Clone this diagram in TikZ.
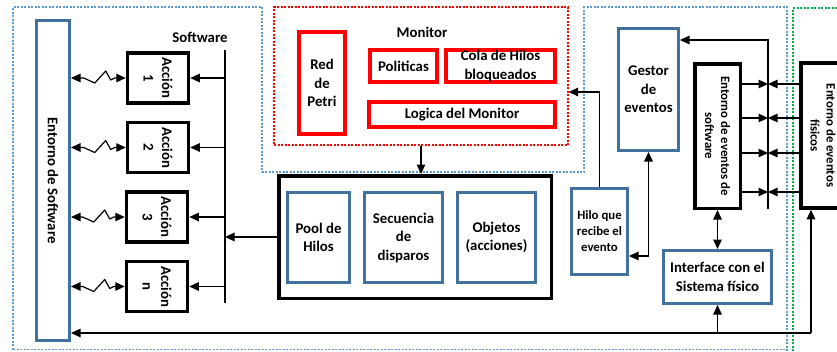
\documentclass[tikz,border=0pt]{standalone}
\usepackage{fontspec}
\setmainfont{Carlito}
\usetikzlibrary{arrows.meta}
\definecolor{boxblue}{HTML}{41719C}
\definecolor{dotblue}{HTML}{5B9BD5}
\definecolor{dotgreen}{HTML}{00B050}
\begin{document}
\begin{tikzpicture}[x=1pt,y=-1pt,
  txt/.style={font=\fontsize{14.8}{18.5}\selectfont\bfseries, align=center, inner sep=0pt},
  stxt/.style={font=\fontsize{12.8}{16}\selectfont\bfseries, align=center, inner sep=0pt},
  bluebox/.style={draw=boxblue, line width=3pt, fill=white, inner sep=0pt},
  blackbox/.style={draw=black, line width=3.5pt, fill=white, inner sep=0pt},
  redbox/.style={draw=red, line width=4pt, fill=white, inner sep=0pt},
  arr/.style={line width=1.2pt, -{Triangle[length=9.5pt,width=8.5pt]}},
  dblarr/.style={line width=1.2pt, {Triangle[length=9.5pt,width=8.5pt]}-{Triangle[length=9.5pt,width=8.5pt]}},
  plain/.style={line width=1.2pt},
  dotline/.style={line width=1.2pt, dash pattern=on 2pt off 1.5pt}
]
\useasboundingbox (0,0) rectangle (837,351);

% dotted regions
\draw[dotline, dotblue] (13,349.5) -- (13,7) -- (262,7) -- (262,172) -- (584,172) -- (584,7) -- (787,7) -- (787,351);
\draw[dotline, dotblue] (13,349.5) -- (787,349.5);
\draw[dotline, dotgreen] (793,351) -- (793,8) -- (840,8);
\node[draw=red, dotline, minimum width=294pt, minimum height=138pt, inner sep=0pt] (mon) at (421,76) {};

% labels
\node[txt] (swlab) at (200,37) {Software};
\node[txt] (monlab) at (422,32) {Monitor};

% left environment
\node[bluebox, minimum width=33pt, minimum height=320pt] (envsw) at (53,180.5) {};
\node[txt, rotate=-90] (envswt) at (envsw) {Entorno de Software};

% action boxes
\node[blackbox, minimum width=61pt, minimum height=50pt] (a1) at (158,78) {};
\node[blackbox, minimum width=61pt, minimum height=50pt] (a2) at (158,147.5) {};
\node[blackbox, minimum width=61pt, minimum height=50pt] (a3) at (157,217) {};
\node[blackbox, minimum width=61pt, minimum height=50pt] (an) at (157,286.5) {};
\node[txt, rotate=-90] (a1t) at (a1) {Acción\\1};
\node[txt, rotate=-90] (a2t) at (a2) {Acción\\2};
\node[txt, rotate=-90] (a3t) at (a3) {Acción\\3};
\node[txt, rotate=-90] (ant) at (an) {Acción\\n};

% software bus
\coordinate (bt) at (225,50);
\coordinate (bb) at (225,303);
\draw[plain] (bt) -- (bb);
\foreach \n in {a1,a2,a3,an}{
  \draw[arr] (\n -| bt) -- (\n.east);
  \draw[dblarr, line join=round] (envsw.east |- \n) -- ([shift={(-42,0)}]\n.west) -- ([shift={(-31,5)}]\n.west) -- ([shift={(-20,-7)}]\n.west) -- ([shift={(-15,2)}]\n.west) -- ([shift={(-11,0)}]\n.west) -- (\n.west);
}

% monitor internals
\node[redbox, minimum width=46pt, minimum height=102pt, txt] (petri) at (322,83) {Red\\de\\Petri};
\node[redbox, minimum width=67pt, minimum height=32pt, txt] (pol) at (403.5,66) {Politicas};
\node[redbox, minimum width=109pt, minimum height=32pt, txt] (cola) at (500.5,66) {Cola de Hilos\\bloqueados};
\node[redbox, minimum width=186pt, minimum height=25pt, txt] (logica) at (462,114.5) {Logica del Monitor};

% thread pool container
\node[blackbox, minimum width=272.5pt, minimum height=122.5pt] (cont) at (415,237) {};
\node[bluebox, minimum width=62pt, minimum height=90pt, txt] (pool) at (318.5,237.5) {Pool de\\Hilos};
\node[bluebox, minimum width=78pt, minimum height=90pt, txt] (sec) at (403.5,237.5) {Secuencia\\de\\disparos};
\node[bluebox, minimum width=78pt, minimum height=90pt, txt] (obj) at (496.5,237.5) {Objetos\\(acciones)};

\draw[arr] (cont.west) -- (cont.west -| bt);
\draw[arr] (mon.south) -- (mon.south |- cont.north);

% right side
\node[bluebox, minimum width=56pt, minimum height=86pt, stxt] (hilo) at (599.5,231.5) {Hilo que\\recibe el\\evento};
\node[bluebox, minimum width=60pt, minimum height=122pt, txt] (gestor) at (648.5,89.5) {Gestor\\de\\eventos};
\node[blackbox, minimum width=45.5pt, minimum height=144.5pt] (evsw) at (717.5,136) {};
\node[stxt, rotate=-90] (evswt) at (evsw) {Entorno de eventos de\\software};
\node[blackbox, minimum width=44pt, minimum height=145pt] (evfis) at (823,135.5) {};
\node[stxt, rotate=-90] (evfist) at (evfis) {Entorno de eventos\\físicos};
\node[bluebox, minimum width=108pt, minimum height=53pt, txt] (iface) at (717.5,277) {Interface con el\\Sistema físico};

\draw[arr] (hilo.north) |- ([yshift=-16pt]mon.east);
\coordinate (hk) at (645,256);
\draw[dblarr] (hilo.east |- hk) -| (gestor.south);

\coordinate (rt) at (768,40);
\coordinate (rb) at (768,209);
\draw[arr] (rb) -- (rt) -- (rt -| gestor.east);
\foreach \yy in {84,118,153,192}{
  \coordinate (r) at (768,\yy);
  \draw[arr] (evsw.east |- r) -- (r);
  \draw[arr] (evfis.west |- r) -- (r);
}
\draw[dblarr] (evsw.south) -- (iface.north);

\coordinate (bl) at (811,333);
\draw[arr] (bl) -- (bl -| envsw.east);
\draw[arr] (bl) -- (bl |- evfis.south);
\draw[arr] (iface.south |- bl) -- (iface.south);
\end{tikzpicture}
\end{document}
